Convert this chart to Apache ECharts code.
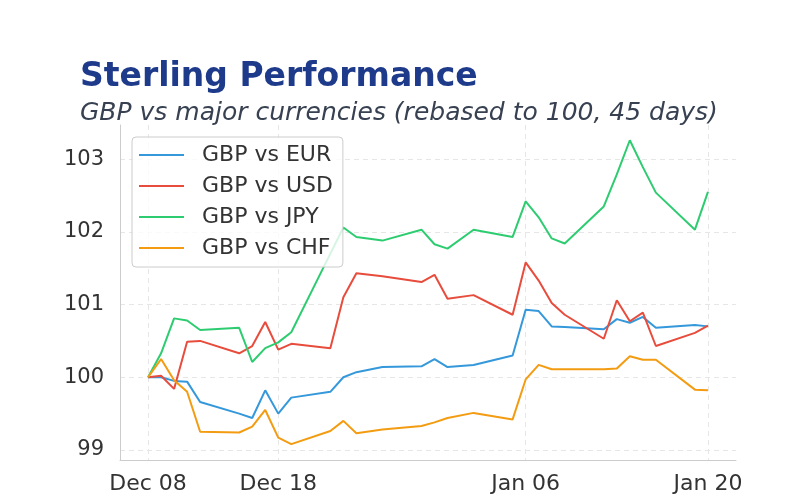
<!DOCTYPE html>
<html>
<head>
<meta charset="utf-8">
<title>Sterling Performance</title>
<script src="https://cdn.jsdelivr.net/npm/echarts@6/dist/echarts.min.js"></script>
<style>
  html, body { margin: 0; padding: 0; background: #fff; }
  #chart { width: 800px; height: 500px; }
</style>
</head>
<body>
<div id="chart"></div>
<script>
// trading days (Dec 25 and Jan 01 closed)
const dates = [
  '2025-12-08', '2025-12-09', '2025-12-10', '2025-12-11', '2025-12-12',
  '2025-12-15', '2025-12-16', '2025-12-17', '2025-12-18', '2025-12-19',
  '2025-12-22', '2025-12-23', '2025-12-24', '2025-12-26',
  '2025-12-29', '2025-12-30', '2025-12-31', '2026-01-02',
  '2026-01-05', '2026-01-06', '2026-01-07', '2026-01-08', '2026-01-09',
  '2026-01-12', '2026-01-13', '2026-01-14', '2026-01-15', '2026-01-16',
  '2026-01-19', '2026-01-20',
]

const gbpEur = [
  100, 100.0, 99.95, 99.94, 99.66, 99.5, 99.44, 99.82, 99.5, 99.72,
  99.8, 100.0, 100.07, 100.14, 100.15, 100.25, 100.14, 100.17,
  100.3, 100.93, 100.91, 100.7, 100.69, 100.66, 100.8, 100.75, 100.83, 100.68,
  100.72, 100.7,
]
const gbpUsd = [
  100, 100.02, 99.84, 100.49, 100.5, 100.33, 100.43, 100.76, 100.38, 100.46,
  100.4, 101.1, 101.43, 101.39, 101.31, 101.41, 101.08, 101.13,
  100.86, 101.58, 101.33, 101.02, 100.86, 100.53, 101.06, 100.77, 100.89, 100.43,
  100.61, 100.71,
]
const gbpJpy = [
  100, 100.33, 100.81, 100.78, 100.65, 100.68, 100.21, 100.4, 100.48, 100.62,
  101.7, 102.06, 101.93, 101.88, 102.03, 101.83, 101.77, 102.03,
  101.93, 102.42, 102.2, 101.91, 101.84, 102.35, 102.79, 103.26, 102.89, 102.54,
  102.03, 102.55,
]
const gbpChf = [
  100, 100.25, 99.96, 99.8, 99.25, 99.24, 99.32, 99.55, 99.17, 99.08,
  99.26, 99.4, 99.23, 99.28, 99.33, 99.38, 99.44, 99.51,
  99.42, 99.97, 100.17, 100.11, 100.11, 100.11, 100.12, 100.29, 100.24, 100.24,
  99.83, 99.82,
]

const seriesNames = ['GBP vs EUR', 'GBP vs USD', 'GBP vs JPY', 'GBP vs CHF']
const seriesValues = [gbpEur, gbpUsd, gbpJpy, gbpChf]

const xTickDates = ['2025-12-08', '2025-12-18', '2026-01-06', '2026-01-20']
const xTickLabels = ['Dec 08', 'Dec 18', 'Jan 06', 'Jan 20']
const yTicks = [99, 100, 101, 102, 103]

const DAY = 864e5
const toTime = (s) => {
  const [y, m, d] = s.split('-').map(Number)
  return Date.UTC(y, m - 1, d)
}

const palette = ['#3498db', '#e74c3c', '#2ecc71', '#f39c12']
const font = 'DejaVu Sans'
const gridColor = '#e6e6e6'
const spineColor = '#cccccc'

const chart = echarts.init(document.getElementById('chart'))
const tickTimes = xTickDates.map(toTime)

chart.setOption({
  animation: false,
  backgroundColor: '#ffffff',
  textStyle: { fontFamily: font },
  title: [
    {
      text: 'Sterling Performance',
      left: 80,
      top: 61,
      padding: 0,
      textStyle: { fontFamily: font, fontSize: 33, fontWeight: 'bold', color: '#1e3a8a' },
    },
    {
      text: 'GBP vs major currencies (rebased to 100, 45 days)',
      left: 80,
      top: 101,
      padding: 0,
      textStyle: { fontFamily: font, fontSize: 25, fontStyle: 'italic', fontWeight: 'normal', color: '#374151' },
    },
  ],
  grid: { left: 120, right: 64, top: 125, bottom: 40 },
  legend: {
    orient: 'vertical',
    left: 132,
    top: 137,
    padding: [7, 10, 8, 7],
    itemGap: 9,
    itemWidth: 45,
    itemHeight: 2,
    icon: 'rect',
    backgroundColor: 'rgba(255,255,255,0.8)',
    borderColor: '#cccccc',
    borderWidth: 1,
    borderRadius: 4,
    textStyle: { fontFamily: font, fontSize: 22, color: '#333333', lineHeight: 22, padding: [0, 0, 0, 13] },
    data: seriesNames,
  },
  xAxis: {
    // day timestamps on a value scale so the ticks can sit on the exact dates
    type: 'value',
    min: toTime(dates[0]) - 2.154 * DAY,
    max: toTime(dates[dates.length - 1]) + 2.154 * DAY,
    axisLine: { lineStyle: { color: spineColor, width: 1 } },
    axisTick: { show: false, customValues: tickTimes },
    axisLabel: {
      customValues: tickTimes,
      fontFamily: font,
      fontSize: 22,
      color: '#333333',
      margin: 13,
      formatter: (v) => {
        const i = tickTimes.findIndex((t) => Math.abs(t - v) < DAY / 2)
        return i >= 0 ? xTickLabels[i] : ''
      },
    },
    splitLine: { show: true, lineStyle: { color: gridColor, type: [5, 4], width: 1 } },
  },
  yAxis: {
    type: 'value',
    min: 98.862,
    max: 103.47,
    axisLine: { show: true, lineStyle: { color: spineColor, width: 1 } },
    axisTick: { show: false, customValues: yTicks },
    axisLabel: {
      customValues: yTicks,
      fontFamily: font,
      fontSize: 21,
      color: '#333333',
      margin: 16,
    },
    splitLine: { show: true, lineStyle: { color: gridColor, type: [5, 4], width: 1 } },
  },
  series: seriesNames.map((name, i) => ({
    name,
    type: 'line',
    showSymbol: false,
    symbol: 'none',
    lineStyle: { width: 2, color: palette[i] },
    itemStyle: { color: palette[i] },
    data: dates.map((d, j) => [toTime(d), seriesValues[i][j]]),
  })),
})
</script>
</body>
</html>
